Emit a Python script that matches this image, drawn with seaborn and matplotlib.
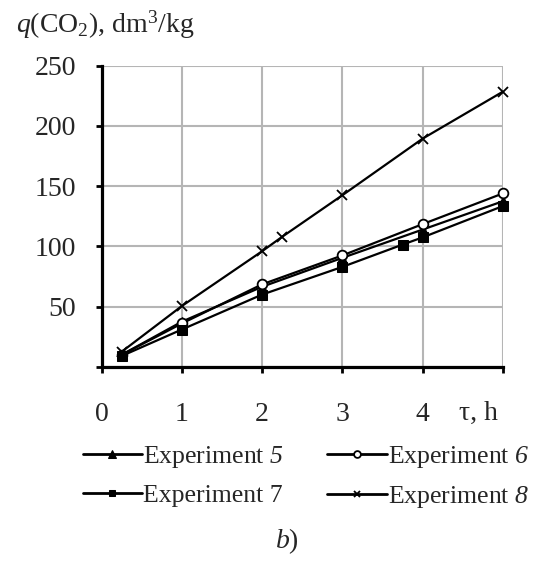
import numpy as np
import pandas as pd
import matplotlib
matplotlib.use("Agg")
import matplotlib.pyplot as plt
import seaborn as sns

# values
tau_5 = [0.25, 1, 2, 3, 4, 5]
q_5 = [10, 37.5, 66.5, 90.5, 114, 137.5]

tau_6 = [0.25, 1, 2, 3, 4, 5]
q_6 = [10, 36, 68.5, 92.5, 118.5, 144]

tau_7 = [0.25, 1, 2, 3, 3.75, 4, 5]
q_7 = [9, 31, 60, 83, 101.5, 107.5, 133.5]

tau_8 = [0.25, 1, 2, 2.25, 3, 4, 5]
q_8 = [12.5, 50.5, 96, 108, 142.5, 189.5, 228.5]

# \mathsf is mapped to the italic serif below (mathtext keeps digits upright in \mathit)
labels = [r"Experiment $\mathsf{5}$", r"Experiment $\mathsf{6}$",
          r"Experiment 7", r"Experiment $\mathsf{8}$"]
x_ticks = [0, 1, 2, 3, 4, 5]
x_tick_labels = ["0", "1", "2", "3", "4", ""]
y_ticks = [0, 50, 100, 150, 200, 250]
y_tick_labels = ["", "50", "100", "150", "200", "250"]

sns.set_style("white")
plt.rcParams["font.family"] = ["Liberation Serif", "DejaVu Serif"]
plt.rcParams["mathtext.fontset"] = "custom"
plt.rcParams["mathtext.rm"] = "Liberation Serif"
plt.rcParams["mathtext.it"] = "Liberation Serif:italic"
plt.rcParams["mathtext.sf"] = "Liberation Serif:italic"
plt.rcParams["font.size"] = 20

fig = plt.figure(figsize=(5.49, 5.67), dpi=100)
ax = fig.add_axes([0.185, 0.353, 0.731, 0.531])

series = [
    (tau_5, q_5, labels[0], dict(marker="^", ms=7.5, mfc="black")),
    (tau_6, q_6, labels[1], dict(marker="o", ms=7, mfc="white", mew=1.3)),
    (tau_7, q_7, labels[2], dict(marker="s", ms=6.5, mfc="black")),
    (tau_8, q_8, labels[3], dict(marker="x", ms=7, mew=1.3)),
]
handles = {}
for t, q, lab, mk in series:
    d = pd.DataFrame({"tau": t, "q": q})
    sns.lineplot(data=d, x="tau", y="q", color="black", lw=1.6, sort=False,
                 mec="black", label=lab, clip_on=False, ax=ax, **mk)
    handles[lab] = ax.lines[-1]

ax.set_xlim(0, 5)
ax.set_ylim(0, 250)
ax.set_xticks(x_ticks)
ax.set_xticklabels(x_tick_labels)
ax.set_yticks(y_ticks)
ax.set_yticklabels(y_tick_labels)
ax.grid(True, color="#b5b5b5", lw=1.5)
ax.set_axisbelow(True)

for s in ["top", "right"]:
    ax.spines[s].set_visible(False)
for s in ["left", "bottom"]:
    ax.spines[s].set_color("black")
    ax.spines[s].set_linewidth(2.3)
ax.tick_params(axis="both", direction="out", length=4.5, width=2,
               color="black", labelsize=20)
ax.tick_params(axis="x", pad=21, bottom=True)
ax.tick_params(axis="y", pad=14, left=True)

ax.set_xlabel("τ, h", fontsize=20)
ax.xaxis.set_label_coords(0.94, -0.112)
ax.set_ylabel("")

fig.text(0.03, 0.956, r"$q$(CO$_2$), dm$^3$/kg", fontsize=20, va="center")

# legend reads 5 6 / 7 8 (column-major order)
order = [labels[0], labels[2], labels[1], labels[3]]
leg = ax.legend([handles[l] for l in order], order, loc="upper left",
                bbox_to_anchor=(-0.047, -0.257), ncol=2, frameon=False,
                fontsize=18.5, handlelength=2.3, handletextpad=0.05,
                columnspacing=1.7, labelspacing=0.55, borderpad=0,
                borderaxespad=0, markerscale=0.7)
for h in leg.legend_handles:
    h.set_linewidth(2)

fig.text(0.523, 0.046, r"$b$)", fontsize=20, ha="center", va="center")

fig.savefig("out.png", dpi=100)
